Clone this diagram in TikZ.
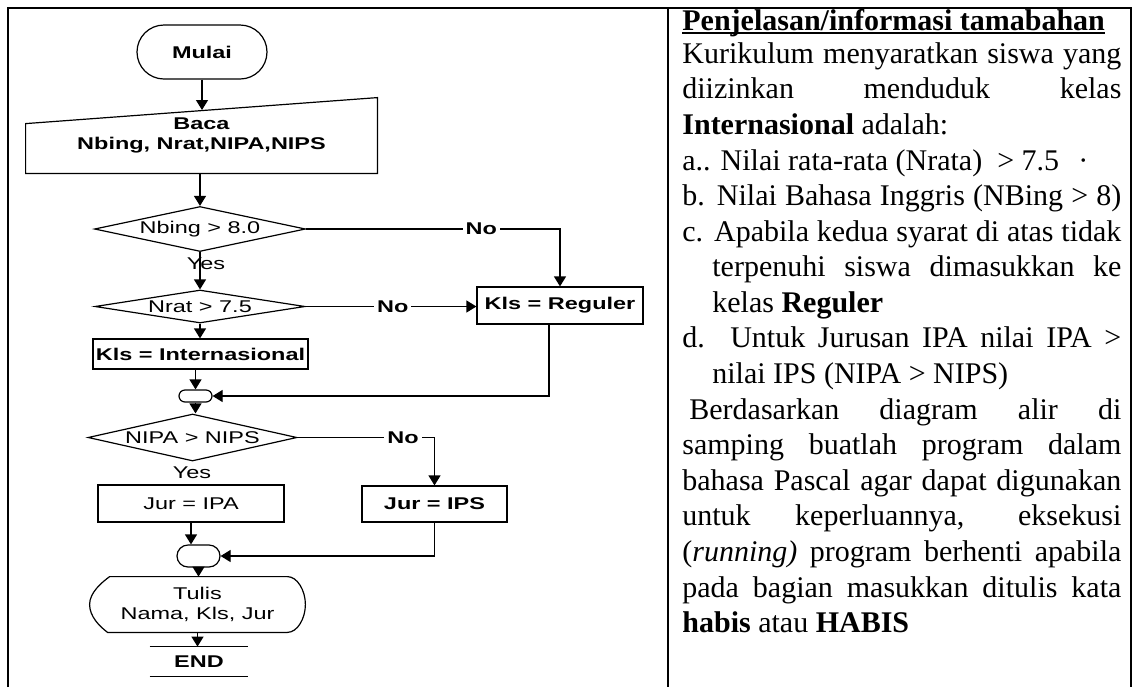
\documentclass[tikz,border=0pt]{standalone}
\usepackage{fontspec}
\setmainfont{Liberation Serif}
\newfontfamily\flowfont[FakeStretch=1.38]{Liberation Sans}
\usetikzlibrary{shapes.geometric,arrows.meta}

\begin{document}
\begin{tikzpicture}[x=0.5pt, y=-0.5pt,
    flow/.style={font=\flowfont\fontsize{8.5}{10}\selectfont},
    wire/.style={line width=0.6pt},
    box/.style={flow, wire, draw, inner sep=0pt},
    decision/.style={box, diamond},
    joint/.style={wire, draw, inner sep=0pt},
    arr/.style={wire, -{Triangle[length=5pt, width=6pt]}},
    lbl/.style={flow, inner sep=1.5pt},
    nolbl/.style={lbl, fill=white},
    txt/.style={anchor=base west, inner sep=0pt, font=\fontsize{15}{18}\selectfont}]
    \useasboundingbox (0,0) rectangle (1136,687);

    % frame
    \draw[line width=1pt] (8,687) -- (8,8) -- (1131,8) -- (1131,687);
    \draw[line width=1pt] (668,8) -- (668,687);

    % flowchart
    \node[box, rounded corners=13.5pt, minimum width=65pt, minimum height=27pt]
        (mulai) at (202,52) {\bfseries Mulai};
    \node[flow, align=center, inner sep=0pt, minimum width=175.5pt, minimum height=37.5pt]
        (baca) at (201.5,135.5) {\bfseries Baca\\\bfseries Nbing, Nrat,NIPA,NIPS};
    \draw[wire] (baca.south west) -- (baca.south east) -- (baca.north east)
        -- ([yshift=-13pt]baca.north west) -- cycle;
    \coordinate (bacain) at (202,110);
    \node[decision, aspect=4.7, minimum width=105.5pt, minimum height=22.5pt]
        (d1) at (200,229) {Nbing > 8.0};
    \node[decision, aspect=6.4, minimum width=105pt, minimum height=16.5pt]
        (d2) at (200,306.5) {Nrat > 7.5};
    \node[box, minimum width=83pt, minimum height=18.5pt]
        (kreg) at (560,305.5) {\bfseries Kls = Reguler};
    \node[box, minimum width=107.5pt, minimum height=15pt]
        (kint) at (200.5,354) {\bfseries Kls = Internasional};
    \node[joint, rounded corners=3pt, minimum width=16.5pt, minimum height=6pt]
        (j1) at (195.5,396) {};
    \node[decision, aspect=4.45, minimum width=104.5pt, minimum height=23.5pt]
        (d3) at (192.5,437.5) {NIPA > NIPS};
    \node[lbl] (yes2) at (192,473) {Yes};
    \node[box, minimum width=93pt, minimum height=18.5pt]
        (jipa) at (191,503.5) {Jur = IPA};
    \node[box, minimum width=72.5pt, minimum height=18pt]
        (jips) at (434.5,504) {\bfseries Jur = IPS};
    \node[joint, rounded corners=5.5pt, minimum width=21.5pt, minimum height=11pt]
        (j2) at (198.5,556) {};
    \node[flow, align=center, inner sep=0pt, minimum width=107.5pt, minimum height=27.5pt]
        (tulis) at (197.5,604.5) {Tulis\\Nama, Kls, Jur};
    \draw[wire] ([xshift=10pt]tulis.north west) -- ([xshift=-9pt]tulis.north east)
        .. controls +(10,0) and +(0,-14) .. (tulis.east)
        .. controls +(0,14) and +(10,0) .. ([xshift=-9pt]tulis.south east)
        -- ([xshift=9pt]tulis.south west)
        .. controls +(-8,-6) and +(0,12) .. (tulis.west)
        .. controls +(0,-12) and +(-8,6) .. ([xshift=10pt]tulis.north west) -- cycle;
    \node[flow, inner sep=0pt, minimum width=49pt, minimum height=14.5pt]
        (ende) at (199,661.5) {\bfseries END};
    \draw[wire] (ende.north west) -- (ende.north east);
    \draw[wire] (ende.south west) -- (ende.south east);

    % connectors
    \draw[arr] (mulai.south) -- (bacain);
    \draw[arr] (d1.north |- baca.south) -- (d1.north);
    \draw[arr] (d1.south) -- node[lbl, pos=0.32, xshift=3pt] (yes1) {Yes} (d2.north);
    \draw[arr] (d1.east) -- node[nolbl, pos=0.69] (no1) {\bfseries No}
        (d1.east -| kreg.north) -- (kreg.north);
    \draw[arr] (d2.east) -- node[nolbl, pos=0.51] (no2) {\bfseries No}
        (d2.east -| kreg.west);
    \draw[arr] (d2.south) -- (d2.south |- kint.north);
    \draw[arr] (j1.north |- kint.south) -- (j1.north);
    \draw[arr] ([xshift=-5.5pt]kreg.south) |- (j1.east);
    \draw[arr] (j1.south) -- (j1.south |- d3.north);
    \draw[arr] (d3.east) -- node[nolbl, pos=0.77] (no3) {\bfseries No}
        (d3.east -| jips.north) -- (jips.north);
    \draw[arr] (jipa.south) -- (jipa.south |- j2.north);
    \draw[arr] (jips.south) |- (j2.east);
    \draw[arr] (j2.south) -- (j2.south |- tulis.north);
    \draw[arr] (tulis.south) -- (tulis.south |- ende.north);

    % explanation
    \node[txt] (t0) at (682,30) {\bfseries Penjelasan/informasi tamabahan};
    \draw[line width=1pt] ([yshift=-1.3pt]t0.base west) -- ([yshift=-1.3pt]t0.base east);
    \node[txt] (t1) at (682,63) {\makebox[219.5pt][s]{Kurikulum menyaratkan siswa yang}};
    \node[txt] (t2) at (682,98.6) {\makebox[219.5pt][s]{diizinkan menduduk kelas}};
    \node[txt] (t3) at (682,134) {\textbf{Internasional} adalah:};
    \node[txt] (t4) at (682,170) {\makebox[203pt][l]{a.. Nilai rata-rata (Nrata)\ \ > 7.5\hfill ·}};
    \node[txt] (t5) at (682,205) {\makebox[219.5pt][s]{b. Nilai Bahasa Inggris (NBing > 8)}};
    \node[txt] (t6) at (682,241) {\makebox[219.5pt][s]{c. Apabila kedua syarat di atas tidak}};
    \node[txt] (t7) at (712,276) {\makebox[204.5pt][s]{terpenuhi siswa dimasukkan ke}};
    \node[txt] (t8) at (712,312) {kelas \textbf{Reguler}};
    \node[txt] (t9) at (682,347.5) {\makebox[219.5pt][s]{d. Untuk Jurusan IPA nilai IPA >}};
    \node[txt] (t10) at (712,383) {nilai IPS (NIPA > NIPS)};
    \node[txt] (t11) at (689,419) {\makebox[216pt][s]{Berdasarkan diagram alir di}};
    \node[txt] (t12) at (682,454) {\makebox[219.5pt][s]{samping buatlah program dalam}};
    \node[txt] (t13) at (682,490) {\makebox[219.5pt][s]{bahasa Pascal agar dapat digunakan}};
    \node[txt] (t14) at (682,525.5) {\makebox[219.5pt][s]{untuk keperluannya, eksekusi}};
    \node[txt] (t15) at (682,561) {\makebox[219.5pt][s]{(\textit{running)} program berhenti apabila}};
    \node[txt] (t16) at (682,597) {\makebox[219.5pt][s]{pada bagian masukkan ditulis kata}};
    \node[txt] (t17) at (682,632) {\textbf{habis} atau \textbf{HABIS}};
\end{tikzpicture}
\end{document}
